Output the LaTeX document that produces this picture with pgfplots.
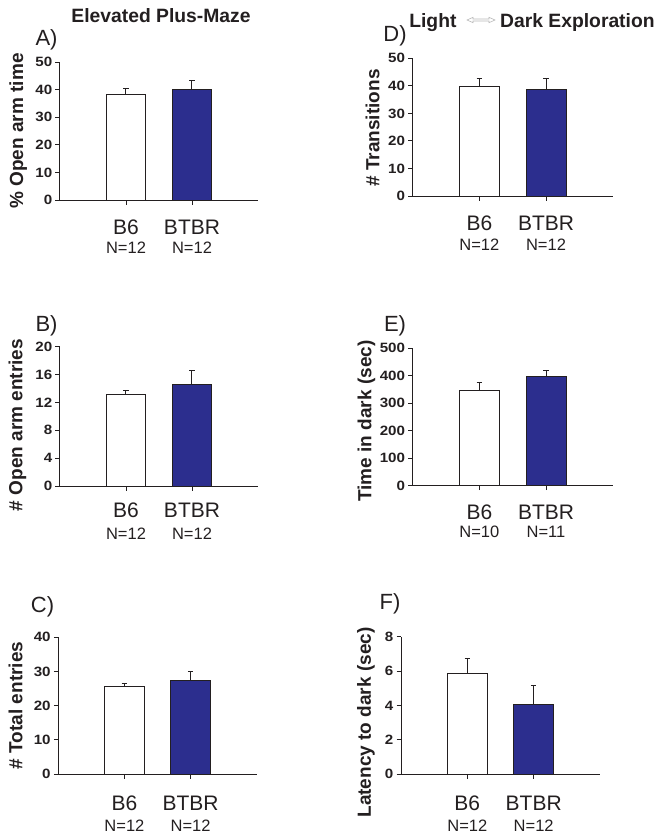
\documentclass[border=0pt]{standalone}
\usepackage{pgfplots}
\pgfplotsset{compat=1.18}
\usepackage{fontspec}
\setmainfont{Liberation Sans}
\newfontfamily\tickfont{Liberation Sans}[FakeStretch=1.12, BoldFeatures={FakeStretch=1.12}]
\definecolor{ink}{RGB}{35,31,32}
\definecolor{btbr}{RGB}{44,46,142}

\pgfplotsset{
  panel/.style={
    scale only axis, anchor=south west,
    xmin=-1, xmax=2, ymin=0,
    axis x line=bottom, axis y line=left,
    axis line style={-, draw=ink, line width=1pt},
    tick align=outside, major tick length=4.5pt,
    tick style={ink, line width=0.9pt},
    xtick={0,1}, xticklabels={},
    yticklabel style={font=\tickfont\bfseries\fontsize{13.5}{13.5}\selectfont, text=ink, inner sep=1pt, xshift=-2pt},
    /pgf/number format/assume math mode=true,
    clip=false,
  },
  whitebar/.style={ybar, bar width=0.6, bar shift=0pt, fill=white, draw=ink, line width=1pt,
    error bars/.cd, y dir=plus, y explicit,
    error bar style={ink, line width=1pt},
    error mark options={ink, line width=1pt, mark size=2.7pt, rotate=90}},
  bluebar/.style={ybar, bar width=0.6, bar shift=0pt, fill=btbr, draw=ink, line width=1pt,
    error bars/.cd, y dir=plus, y explicit,
    error bar style={ink, line width=1pt},
    error mark options={ink, line width=1pt, mark size=2.7pt, rotate=90}},
}

\newcommand{\xlabs}[4]{%
  \node[anchor=base, yshift=-#3pt, font=\fontsize{21}{21}\selectfont, text=ink] at (axis cs:0,0) {B6};
  \node[anchor=base, yshift=-#3pt, font=\fontsize{21}{21}\selectfont, text=ink] at (axis cs:1,0) {BTBR};
  \node[anchor=base, yshift=-#4pt, font=\fontsize{16.5}{16.5}\selectfont, text=ink] at (axis cs:0,0) {N=#1};
  \node[anchor=base, yshift=-#4pt, font=\fontsize{16.5}{16.5}\selectfont, text=ink] at (axis cs:1,0) {N=#2};
}

\begin{document}
\begin{tikzpicture}
\path[use as bounding box] (0,0) rectangle (664pt,-839pt);

% A) % Open arm time
\begin{axis}[panel, at={(60pt,-200pt)}, width=198pt, height=138pt, ymax=50, ytick={0,10,...,50}]
\addplot[whitebar] coordinates {(0,38.2) +- (0,2.1)};
\addplot[bluebar] coordinates {(1,39.9) +- (0,3.5)};
\xlabs{12}{12}{34}{53}
\end{axis}

% B) # Open arm entries
\begin{axis}[panel, at={(60pt,-486pt)}, width=198pt, height=139.3pt, ymax=20, ytick={0,4,...,20}]
\addplot[whitebar] coordinates {(0,13.2) +- (0,0.5)};
\addplot[bluebar] coordinates {(1,14.6) +- (0,1.95)};
\xlabs{12}{12}{31}{53}
\end{axis}

% C) # Total entries
\begin{axis}[panel, at={(58.3pt,-774pt)}, width=198.4pt, height=136.7pt, ymax=40, ytick={0,10,...,40}]
\addplot[whitebar] coordinates {(0,25.6) +- (0,0.9)};
\addplot[bluebar] coordinates {(1,27.5) +- (0,2.5)};
\xlabs{12}{12}{36}{57}
\end{axis}

% D) # Transitions
\begin{axis}[panel, at={(412.7pt,-196pt)}, width=200pt, height=137.7pt, ymax=50, ytick={0,10,...,50}]
\addplot[whitebar] coordinates {(0,39.9) +- (0,2.8)};
\addplot[bluebar] coordinates {(1,38.5) +- (0,4.0)};
\xlabs{12}{12}{34}{54}
\end{axis}

% E) Time in dark
\begin{axis}[panel, at={(412.7pt,-485.7pt)}, width=200pt, height=137.4pt, ymax=500, ytick={0,100,...,500}]
\addplot[whitebar] coordinates {(0,347) +- (0,28)};
\addplot[bluebar] coordinates {(1,398) +- (0,20)};
\xlabs{10}{11}{34}{52}
\end{axis}

% F) Latency to dark
\begin{axis}[panel, at={(401pt,-774.3pt)}, width=199pt, height=137.6pt, ymax=8, ytick={0,2,...,8}]
\addplot[whitebar] coordinates {(0,5.87) +- (0,0.87)};
\addplot[bluebar] coordinates {(1,4.03) +- (0,1.16)};
\xlabs{12}{12}{36}{57}
\end{axis}

\begin{scope}[x=1pt, y=-1pt]
% titles
\node[anchor=base, text=ink, font=\bfseries\fontsize{19.3}{19.3}\selectfont] at (161,22.5) {Elevated Plus-Maze};
\node[anchor=base east, text=ink, font=\bfseries\fontsize{19.3}{19.3}\selectfont] at (460,27) {Light};
\node[anchor=base west, text=ink, font=\bfseries\fontsize{19.3}{19.3}\selectfont, inner sep=0pt] at (500,27) {Dark Exploration};
\draw[gray!55, line width=0.6pt, line join=miter] (467,20) -- (473,17.3) -- (473,19) -- (489,19) -- (489,17.3) -- (495,20) -- (489,22.7) -- (489,21) -- (473,21) -- (473,22.7) -- cycle;
% panel letters
\foreach \t/\xx/\yy in {A)/46.5/39.5, B)/46.5/325.5, C)/42.5/607, D)/395/36, E)/395/325.8, F)/390/604}
  \node[text=ink, font=\fontsize{22}{22}\selectfont] at (\xx,\yy) {\t};
% y labels
\node[rotate=90, text=ink, font=\bfseries\fontsize{19}{19}\selectfont] at (18.3,131) {\% Open arm time};
\node[rotate=90, text=ink, font=\bfseries\fontsize{19}{19}\selectfont] at (17.5,425) {\# Open arm entries};
\node[rotate=90, text=ink, font=\bfseries\fontsize{19}{19}\selectfont] at (15.5,705.5) {\# Total entries};
\node[rotate=90, text=ink, font=\bfseries\fontsize{19}{19}\selectfont] at (372.5,128) {\# Transitions};
\node[rotate=90, text=ink, font=\bfseries\fontsize{19}{19}\selectfont] at (366.5,421) {Time in dark (sec)};
\node[rotate=90, text=ink, font=\bfseries\fontsize{19}{19}\selectfont] at (366,722.5) {Latency to dark (sec)};
\end{scope}
\end{tikzpicture}
\end{document}
